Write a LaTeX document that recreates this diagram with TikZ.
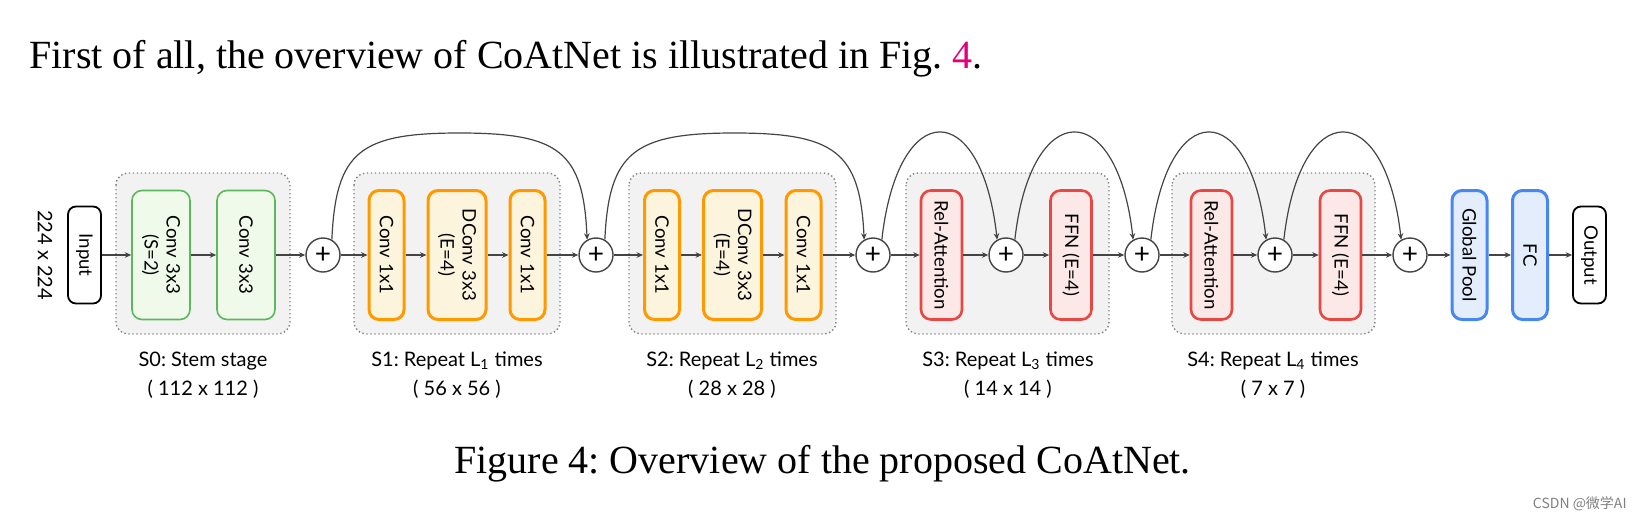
\documentclass[tikz,border=0pt]{standalone}
\usepackage{fontspec}
\setmainfont{Liberation Serif}
\setsansfont{Lato}
\newfontfamily\cjk{Noto Sans CJK SC}
\usetikzlibrary{calc,arrows.meta}
\frenchspacing

\definecolor{lineg}{RGB}{68,68,68}
\definecolor{stemline}{RGB}{92,184,92}
\definecolor{stemfill}{RGB}{239,250,235}
\definecolor{mbline}{RGB}{255,153,0}
\definecolor{mbfill}{RGB}{253,244,222}
\definecolor{attline}{RGB}{232,72,68}
\definecolor{attfill}{RGB}{252,232,230}
\definecolor{headline}{RGB}{70,135,240}
\definecolor{headfill}{RGB}{228,237,252}
\definecolor{stagefill}{RGB}{242,242,242}
\definecolor{stagedot}{RGB}{130,130,130}
\definecolor{figref}{RGB}{228,0,124}

\begin{document}
\begin{tikzpicture}[x=0.5pt,y=-0.5pt,font=\sffamily,
    flow/.style={draw=lineg,line width=0.6pt,-{Stealth[length=3.2pt,width=2.8pt]}},
    block/.style={rotate=-90,rounded corners=5pt,minimum width=64.5pt,inner sep=1pt,
        align=center,font=\sffamily\fontsize{9.3}{11}\selectfont},
    stem/.style={block,draw=stemline,fill=stemfill,line width=0.8pt,minimum height=29pt},
    mbnarrow/.style={block,draw=mbline,fill=mbfill,line width=1.5pt,minimum height=17.5pt},
    mbwide/.style={block,draw=mbline,fill=mbfill,line width=1.5pt,minimum height=29pt},
    attn/.style={block,draw=attline,fill=attfill,line width=1.3pt,minimum height=20.5pt},
    head/.style={block,draw=headline,fill=headfill,line width=1.5pt,minimum height=17.5pt},
    io/.style={rotate=-90,draw=black,line width=0.9pt,fill=white,rounded corners=4pt,
        minimum width=48.5pt,minimum height=16.5pt,inner sep=1pt,font=\sffamily\fontsize{9.3}{11}\selectfont},
    add/.style={circle,draw=lineg,line width=0.7pt,fill=white,minimum size=17pt,inner sep=0pt,
        font=\sffamily\fontsize{14}{14}\selectfont},
    stage/.style={fill=stagefill,draw=stagedot,line width=0.7pt,dash pattern=on 0.7pt off 1.3pt,rounded corners=6pt},
    stagelbl/.style={align=center,font=\sffamily\fontsize{10}{14.5}\selectfont}]
    \useasboundingbox (0,0) rectangle (1640,520);

    % text around the figure
    \node[anchor=base west,inner sep=0,font=\rmfamily\fontsize{20}{24}\selectfont] (intro) at (29,68)
        {First of all, the overview of CoAtNet is illustrated in Fig.~\textcolor{figref}{4}.};
    \node[anchor=base west,inner sep=0,font=\rmfamily\fontsize{20}{24}\selectfont] (caption) at (454,473)
        {Figure 4: Overview of the proposed CoAtNet.};
    \node[anchor=east,inner sep=0,text=gray,font=\cjk\fontsize{7}{8}\selectfont] (mark) at (1627,504) {CSDN @微学AI};

    % stage backgrounds
    \draw[stage] (116,173) rectangle (290,334);
    \draw[stage] (354,173) rectangle (560,334);
    \draw[stage] (629,173) rectangle (836,334);
    \draw[stage] (906,173) rectangle (1109,334);
    \draw[stage] (1172,173) rectangle (1375,334);
    \node[stagelbl] (lbl0) at (203,375) {S0: Stem stage\\( 112 x 112 )};
    \node[stagelbl] (lbl1) at (457,375) {S1: Repeat L\textsubscript{1} times\\( 56 x 56 )};
    \node[stagelbl] (lbl2) at (732,375) {S2: Repeat L\textsubscript{2} times\\( 28 x 28 )};
    \node[stagelbl] (lbl3) at (1008,375) {S3: Repeat L\textsubscript{3} times\\( 14 x 14 )};
    \node[stagelbl] (lbl4) at (1273,375) {S4: Repeat L\textsubscript{4} times\\( 7 x 7 )};

    % blocks
    \node[rotate=-90,font=\sffamily\fontsize{10}{12}\selectfont] (res) at (45,255) {224 x 224};
    \node[io] (inp) at (84.5,255) {Input};
    \node[stem] (stemA) at (161,255) {Conv 3x3\\(S=2)};
    \node[stem] (stemB) at (246,255) {Conv 3x3};
    \node[add] (add1) at (323,255) {+};
    \node[mbnarrow] (s1a) at (386.5,255) {Conv 1x1};
    \node[mbwide] (s1b) at (457,255) {DConv 3x3\\(E=4)};
    \node[mbnarrow] (s1c) at (527.5,255) {Conv 1x1};
    \node[add] (add2) at (596,255) {+};
    \node[mbnarrow] (s2a) at (662,255) {Conv 1x1};
    \node[mbwide] (s2b) at (732.5,255) {DConv 3x3\\(E=4)};
    \node[mbnarrow] (s2c) at (803.5,255) {Conv 1x1};
    \node[add] (add3) at (873,255) {+};
    \node[attn] (s3a) at (941.5,255) {Rel-Attention};
    \node[add] (add4) at (1006,255) {+};
    \node[attn] (s3b) at (1071,255) {FFN (E=4)};
    \node[add] (add5) at (1142,255) {+};
    \node[attn] (s4a) at (1211.5,255) {Rel-Attention};
    \node[add] (add6) at (1275,255) {+};
    \node[attn] (s4b) at (1340.5,255) {FFN (E=4)};
    \node[add] (add7) at (1410,255) {+};
    \node[head] (pool) at (1469.5,255) {Global Pool};
    \node[head] (fc) at (1530,255) {FC};
    \node[io] (outp) at (1589.5,255) {Output};

    % main flow
    \draw[flow] (inp) -- (stemA);
    \draw[flow] (stemA) -- (stemB);
    \draw[flow] (stemB) -- (add1);
    \draw[flow] (add1) -- (s1a);
    \draw[flow] (s1a) -- (s1b);
    \draw[flow] (s1b) -- (s1c);
    \draw[flow] (s1c) -- (add2);
    \draw[flow] (add2) -- (s2a);
    \draw[flow] (s2a) -- (s2b);
    \draw[flow] (s2b) -- (s2c);
    \draw[flow] (s2c) -- (add3);
    \draw[flow] (add3) -- (s3a);
    \draw[flow] (s3a) -- (add4);
    \draw[flow] (add4) -- (s3b);
    \draw[flow] (s3b) -- (add5);
    \draw[flow] (add5) -- (s4a);
    \draw[flow] (s4a) -- (add6);
    \draw[flow] (add6) -- (s4b);
    \draw[flow] (s4b) -- (add7);
    \draw[flow] (add7) -- (pool);
    \draw[flow] (pool) -- (fc);
    \draw[flow] (fc) -- (outp);

    % skip connections
    \draw[flow] (add1.60) .. controls +(4,-88) and +(-100,0) .. ($(add1)!0.5!(add2)+(0,-122)$)
        .. controls +(100,0) and +(-4,-88) .. (add2.120);
    \draw[flow] (add2.60) .. controls +(4,-88) and +(-100,0) .. ($(add2)!0.5!(add3)+(0,-122)$)
        .. controls +(100,0) and +(-4,-88) .. (add3.120);
    \draw[flow] (add3.60) .. controls +(16,-143) and +(-16,-143) .. (add4.120);
    \draw[flow] (add4.60) .. controls +(16,-143) and +(-16,-143) .. (add5.120);
    \draw[flow] (add5.60) .. controls +(16,-143) and +(-16,-143) .. (add6.120);
    \draw[flow] (add6.60) .. controls +(16,-143) and +(-16,-143) .. (add7.120);
\end{tikzpicture}
\end{document}
